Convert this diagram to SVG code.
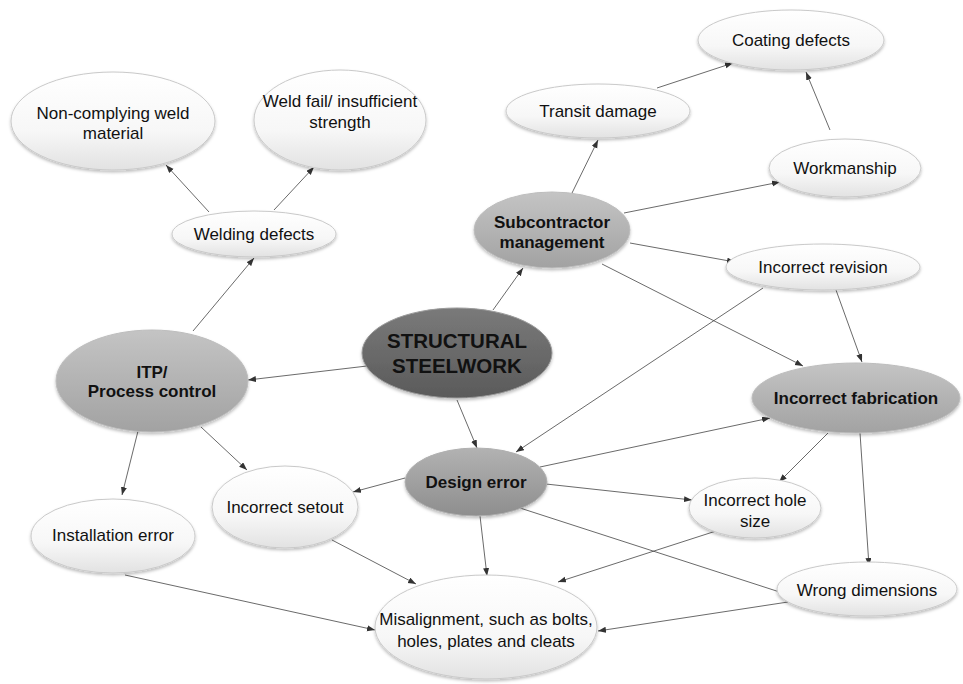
<svg xmlns="http://www.w3.org/2000/svg" width="963" height="684" viewBox="0 0 963 684">
<defs>
<linearGradient id="gLight" x1="0" y1="0" x2="0" y2="1">
<stop offset="0" stop-color="#ffffff"/>
<stop offset="0.6" stop-color="#f7f7f7"/>
<stop offset="1" stop-color="#e2e2e2"/>
</linearGradient>
<linearGradient id="gGray" x1="0" y1="0" x2="0" y2="1">
<stop offset="0" stop-color="#c4c4c4"/>
<stop offset="1" stop-color="#a2a2a2"/>
</linearGradient>
<linearGradient id="gMid" x1="0" y1="0" x2="0" y2="1">
<stop offset="0" stop-color="#b2b2b2"/>
<stop offset="1" stop-color="#8e8e8e"/>
</linearGradient>
<linearGradient id="gDark" x1="0" y1="0" x2="0" y2="1">
<stop offset="0" stop-color="#7a7a7a"/>
<stop offset="1" stop-color="#5a5a5a"/>
</linearGradient>
<filter id="sh" x="-10%" y="-10%" width="120%" height="130%">
<feDropShadow dx="0" dy="2" stdDeviation="1.5" flood-color="#000" flood-opacity="0.25"/>
</filter>
<marker id="ah" markerUnits="userSpaceOnUse" markerWidth="9" markerHeight="7" refX="8" refY="3" orient="auto">
<path d="M0,0 L8,3 L0,6 z" fill="#333"/>
</marker>
</defs>
<style>
.light{fill:url(#gLight);stroke:#c9c9c9;stroke-width:1;filter:url(#sh)}
.gray{fill:url(#gGray);stroke:#bdbdbd;stroke-width:1;filter:url(#sh)}
.mid{fill:url(#gMid);stroke:#b0b0b0;stroke-width:1;filter:url(#sh)}
.dark{fill:url(#gDark);stroke:#999;stroke-width:1;filter:url(#sh)}
text{font-family:"Liberation Sans",Arial,sans-serif;fill:#111;text-anchor:middle}
.t{font-size:17px}
.b{font-size:17px;font-weight:bold}
.big{font-size:20.5px;font-weight:bold}
#connectors line{stroke:#444;stroke-width:0.8;marker-end:url(#ah)}
</style>
<rect width="963" height="684" fill="#ffffff"/>
<g id="connectors">
<line x1="367" y1="366" x2="248" y2="380"/>
<line x1="493" y1="310" x2="523" y2="268"/>
<line x1="457" y1="400" x2="477" y2="448"/>
<line x1="193" y1="331" x2="254" y2="258"/>
<line x1="209" y1="212" x2="166" y2="165"/>
<line x1="274" y1="210" x2="314" y2="167"/>
<line x1="138" y1="431" x2="122" y2="495"/>
<line x1="201" y1="427" x2="247" y2="470"/>
<line x1="572" y1="193" x2="598" y2="140"/>
<line x1="657" y1="88" x2="733" y2="63"/>
<line x1="830" y1="130" x2="806" y2="72"/>
<line x1="624" y1="213" x2="780" y2="182"/>
<line x1="630" y1="243" x2="735" y2="262"/>
<line x1="602" y1="264" x2="803" y2="366"/>
<line x1="836" y1="290" x2="862" y2="362"/>
<line x1="763" y1="288" x2="516" y2="452"/>
<line x1="540" y1="467" x2="770" y2="418"/>
<line x1="405" y1="478" x2="353" y2="492"/>
<line x1="546" y1="484" x2="692" y2="500"/>
<line x1="480" y1="516" x2="487" y2="576"/>
<line x1="520" y1="508" x2="792" y2="596"/>
<line x1="828" y1="433" x2="779" y2="482"/>
<line x1="860" y1="433" x2="869" y2="566"/>
<line x1="716" y1="531" x2="558" y2="582"/>
<line x1="788" y1="602" x2="598" y2="631"/>
<line x1="332" y1="540" x2="416" y2="584"/>
<line x1="125" y1="575" x2="375" y2="630"/>
</g>
<g id="n-noncomplying"><ellipse class="light" cx="113" cy="121" rx="102" ry="49"/><text class="t" x="113" y="119">Non-complying weld</text><text class="t" x="113" y="139">material</text></g>
<g id="n-weldfail"><ellipse class="light" cx="340" cy="120" rx="86" ry="50"/><text class="t" x="340" y="107">Weld fail/ insufficient</text><text class="t" x="340" y="128">strength</text></g>
<g id="n-welding"><ellipse class="light" cx="254" cy="234" rx="82" ry="23"/><text class="t" x="254" y="240">Welding defects</text></g>
<g id="n-transit"><ellipse class="light" cx="598" cy="111" rx="92" ry="27"/><text class="t" x="598" y="117">Transit damage</text></g>
<g id="n-coating"><ellipse class="light" cx="791" cy="40" rx="93" ry="30"/><text class="t" x="791" y="46">Coating defects</text></g>
<g id="n-workmanship"><ellipse class="light" cx="845" cy="168" rx="76" ry="29"/><text class="t" x="845" y="174">Workmanship</text></g>
<g id="n-revision"><ellipse class="light" cx="823" cy="267" rx="97" ry="23"/><text class="t" x="823" y="273">Incorrect revision</text></g>
<g id="n-setout"><ellipse class="light" cx="285" cy="507" rx="73" ry="41"/><text class="t" x="285" y="513">Incorrect setout</text></g>
<g id="n-installation"><ellipse class="light" cx="113" cy="536" rx="82" ry="37"/><text class="t" x="113" y="541">Installation error</text></g>
<g id="n-holesize"><ellipse class="light" cx="755" cy="508" rx="66" ry="30"/><text class="t" x="755" y="506">Incorrect hole</text><text class="t" x="755" y="527">size</text></g>
<g id="n-wrongdim"><ellipse class="light" cx="867" cy="589" rx="90" ry="27"/><text class="t" x="867" y="596">Wrong dimensions</text></g>
<g id="n-misalignment"><ellipse class="light" cx="486" cy="627" rx="111" ry="52"/><text class="t" x="486" y="625">Misalignment, such as bolts,</text><text class="t" x="486" y="647">holes, plates and cleats</text></g>
<g id="n-itp"><ellipse class="gray" cx="152" cy="381" rx="96" ry="51"/><text class="b" x="152" y="378">ITP/</text><text class="b" x="152" y="397">Process control</text></g>
<g id="n-subcontractor"><ellipse class="gray" cx="552" cy="230" rx="78" ry="38"/><text class="b" x="552" y="228">Subcontractor</text><text class="b" x="552" y="248">management</text></g>
<g id="n-fabrication"><ellipse class="gray" cx="856" cy="398" rx="104" ry="35"/><text class="b" x="856" y="404">Incorrect fabrication</text></g>
<g id="n-design"><ellipse class="mid" cx="476" cy="482" rx="71" ry="34"/><text class="b" x="476" y="488">Design error</text></g>
<g id="n-structural"><ellipse class="dark" cx="457" cy="353" rx="95" ry="45"/><text class="big" x="457" y="348">STRUCTURAL</text><text class="big" x="457" y="373">STEELWORK</text></g>
</svg>
